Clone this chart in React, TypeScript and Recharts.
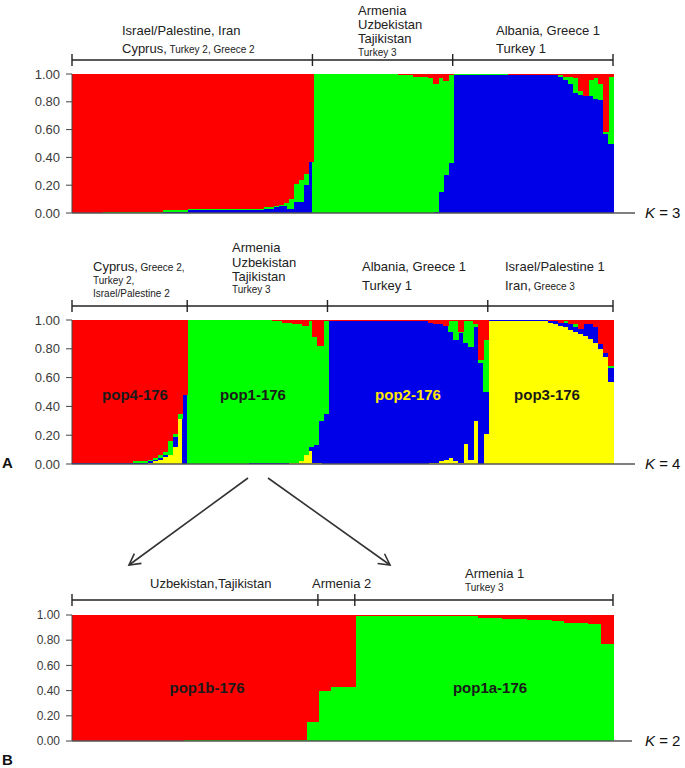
import React from 'react';
import { BarChart, Bar, XAxis, YAxis } from 'recharts';

const RED = '#ff0000';
const GREEN = '#00ff00';
const BLUE = '#0000e8';
const YELLOW = '#ffff00';
const FONT = '"Liberation Sans", Arial, sans-serif';

const yTicks = [0, 20, 40, 60, 80, 100];

// K = 3 : percent membership per bar (left to right)
const k3Groups = [48, 28, 32];
const k3Blue = [
  0, 0, 0, 0, 0, 0, 0, 0, 0, 0, 0, 0, 0, 0, 0, 0, 0, 0, 1, 1, 1, 1, 1, 2, 2, 2, 2, 2, 2,
  2, 2, 2, 2, 2, 2, 2, 2, 2, 3, 3, 4, 5, 5, 3, 8, 8, 20, 37,
  0, 0, 0, 0, 0, 0, 0, 0, 0, 0, 0, 0, 0, 0, 0, 0, 0, 0, 0, 0, 0, 0, 0, 0, 1, 15, 27, 36,
  99, 99, 99, 99, 99, 99, 99, 99, 99, 99, 99, 99, 99, 99, 99, 99, 99, 99, 99, 99, 99,
  98, 96, 93, 86, 85, 84, 84, 82, 81, 57, 50,
];
const k3Green = [
  0, 0, 0, 0, 0, 0, 1, 1, 1, 1, 1, 1, 1, 1, 1, 1, 1, 1, 1, 1, 1, 1, 1, 1, 1, 1, 1, 1, 1,
  1, 1, 1, 1, 1, 1, 1, 1, 1, 1, 1, 1, 1, 2, 7, 13, 16, 8, 0,
  100, 100, 100, 100, 100, 100, 100, 100, 100, 100, 100, 100, 100, 100, 100, 100, 100,
  99, 99, 99, 98, 98, 98, 97, 92, 82, 68, 63,
  1, 1, 1, 1, 1, 1, 1, 1, 1, 1, 1, 0, 0, 0, 0, 0, 0, 0, 0, 0, 0,
  1, 2, 5, 11, 3, 0, 12, 15, 12, 1, 48,
];
const k3Red = [
  100, 100, 100, 100, 100, 100, 99, 99, 99, 99, 99, 99, 99, 99, 99, 99, 99, 99, 98, 98, 98, 98, 98,
  97, 97, 97, 97, 97, 97, 97, 97, 97, 97, 97, 97, 97, 97, 97, 96, 96, 95, 94, 93, 90, 79, 76, 72, 63,
  0, 0, 0, 0, 0, 0, 0, 0, 0, 0, 0, 0, 0, 0, 0, 0, 0, 1, 1, 1, 2, 2, 2, 3, 7, 3, 5, 1,
  0, 0, 0, 0, 0, 0, 0, 0, 0, 0, 0, 1, 1, 1, 1, 1, 1, 1, 1, 1, 1,
  1, 2, 2, 3, 12, 16, 4, 3, 7, 42, 2,
];

// K = 4
const k4Groups = [23, 28, 32, 25];
const k4Yellow = [
  0, 0, 0, 0, 0, 0, 0, 0, 0, 0, 0, 0, 0, 0, 0, 1, 2, 3, 5, 6, 12, 31, 0,
  0, 0, 0, 0, 0, 0, 0, 0, 0, 0, 0, 0, 0, 0, 0, 0, 0, 0, 0, 0, 1, 1, 2, 6, 9, 1, 1, 0,
  0, 0, 0, 0, 0, 0, 0, 0, 0, 0, 0, 0, 0, 0, 0, 0, 0, 0, 0, 0, 1, 1, 2, 3, 4, 2, 1, 14, 3, 30, 0, 21,
  99, 99, 99, 99, 99, 99, 99, 99, 99, 99, 99, 99, 98, 97, 96, 95, 93, 92, 90, 89, 87, 84, 80, 74, 57,
];
const k4Blue = [
  1, 1, 1, 1, 1, 1, 1, 1, 1, 1, 1, 1, 1, 1, 1, 1, 1, 1, 1, 0, 7, 0, 48,
  0, 0, 0, 0, 0, 0, 0, 0, 0, 0, 0, 0, 1, 1, 1, 1, 1, 1, 1, 1, 0, 0, 0, 0, 3, 12, 29, 35,
  99, 99, 99, 99, 99, 99, 99, 99, 99, 99, 99, 99, 99, 99, 99, 99, 99, 99, 99, 99,
  97, 96, 95, 93, 88, 84, 90, 70, 78, 65, 70, 29,
  1, 1, 1, 1, 1, 1, 1, 1, 1, 1, 1, 1, 1, 2, 2, 3, 4, 3, 4, 8, 10, 11, 3, 3, 10,
];
const k4Green = [
  0, 0, 0, 0, 0, 0, 0, 0, 0, 0, 0, 0, 1, 1, 1, 1, 1, 2, 2, 10, 2, 4, 0,
  100, 100, 100, 100, 100, 100, 100, 100, 100, 100, 100, 100, 99, 99, 99, 99, 99,
  98, 98, 97, 97, 96, 95, 90, 87, 75, 52, 64,
  0, 0, 0, 0, 0, 0, 0, 0, 0, 0, 0, 0, 0, 0, 0, 0, 0, 0, 0, 0, 0, 0, 0, 0, 7, 13, 1, 15, 18, 2, 2, 36,
  0, 0, 0, 0, 0, 0, 0, 0, 0, 0, 0, 0, 0, 0, 0, 1, 0, 2, 0, 0, 0, 0, 0, 0, 1,
];
const k4Red = [
  99, 99, 99, 99, 99, 99, 99, 99, 99, 99, 99, 99, 98, 98, 98, 97, 96, 94, 92, 84, 79, 65, 52,
  0, 0, 0, 0, 0, 0, 0, 0, 0, 0, 0, 0, 0, 0, 0, 0, 0, 1, 1, 2, 2, 3, 3, 4, 1, 12, 18, 1,
  1, 1, 1, 1, 1, 1, 1, 1, 1, 1, 1, 1, 1, 1, 1, 1, 1, 1, 1, 1, 2, 3, 3, 4, 1, 1, 8, 1, 1, 3, 28, 14,
  0, 0, 0, 0, 0, 0, 0, 0, 0, 0, 0, 0, 1, 1, 2, 1, 3, 3, 6, 3, 3, 5, 17, 23, 32,
];

// K = 2 (pop1 sub-structure)
const k2Groups = [20, 3, 21];
const k2Green = [
  0, 0, 0, 0, 0, 0, 0, 0, 0, 1, 1, 1, 1, 1, 1, 1, 1, 1, 1, 15,
  40, 43, 43,
  99, 99, 99, 99, 99, 99, 99, 99, 99, 99, 98, 98, 97, 97, 96, 96, 95, 94, 94, 93, 77,
];
const k2Red = [
  100, 100, 100, 100, 100, 100, 100, 100, 100, 99, 99, 99, 99, 99, 99, 99, 99, 99, 99, 85,
  60, 57, 57,
  1, 1, 1, 1, 1, 1, 1, 1, 1, 1, 2, 2, 3, 3, 4, 4, 5, 6, 6, 7, 23,
];

const PLOT_LEFT = 72;
const PLOT_RIGHT = 613;
const PLOT_W = PLOT_RIGHT - PLOT_LEFT;

type Series = { key: string; values: number[]; color: string };

// rect widened slightly so neighbouring bars meet without hairline gaps
const barShape = (color: string) => (p: any) =>
  p.height > 0 ? (
    <rect x={p.x} y={p.y} width={p.width + 1.2} height={p.height} fill={color} shapeRendering="crispEdges" />
  ) : (
    <g />
  );

function Structure({ top, plotH, series, fontSize }: { top: number; plotH: number; series: Series[]; fontSize: number }) {
  const rows = series[0].values.map((_, i) => {
    const r: Record<string, number> = { id: i };
    series.forEach((s) => (r[s.key] = s.values[i]));
    return r;
  });
  return (
    <div style={{ position: 'absolute', left: 0, top: top - 10 }}>
      <BarChart
        width={685}
        height={plotH + 20}
        data={rows}
        margin={{ top: 10, right: 685 - PLOT_RIGHT, bottom: 10, left: 0 }}
        barCategoryGap={0}
        barGap={0}
      >
        <XAxis dataKey="id" hide />
        <YAxis
          width={PLOT_LEFT}
          domain={[0, 100]}
          ticks={yTicks}
          allowDataOverflow
          tickFormatter={(v: number) => (v / 100).toFixed(2)}
          tick={{ fontSize, fill: '#3a3a3a', fontFamily: FONT }}
          tickLine={{ stroke: '#444' }}
          axisLine={{ stroke: '#444' }}
          tickSize={6}
          tickMargin={6}
        />
        {series.map((s) => (
          <Bar
            key={s.key}
            dataKey={s.key}
            stackId="q"
            fill={s.color}
            shape={barShape(s.color)}
            isAnimationActive={false}
          />
        ))}
      </BarChart>
    </div>
  );
}

function Bracket({ y, groups }: { y: number; groups: number[] }) {
  const n = groups.reduce((a, b) => a + b, 0);
  const xs = [0];
  groups.forEach((g) => xs.push(xs[xs.length - 1] + g));
  return (
    <g stroke="#222" strokeWidth={1.4}>
      <line x1={PLOT_LEFT} x2={PLOT_RIGHT} y1={y} y2={y} />
      {xs.map((c, i) => {
        const x = PLOT_LEFT + (c / n) * PLOT_W;
        return <line key={i} x1={x} x2={x} y1={y - 6} y2={y + 6} />;
      })}
    </g>
  );
}

const small = 10;

export default function App() {
  return (
    <div style={{ position: 'absolute', left: 0, top: 0, width: 685, height: 768, background: '#fff', overflow: 'hidden' }}>
      <Structure
        top={74}
        plotH={139}
        fontSize={13}
        series={[
          { key: 'blue', values: k3Blue, color: BLUE },
          { key: 'green', values: k3Green, color: GREEN },
          { key: 'red', values: k3Red, color: RED },
        ]}
      />
      <Structure
        top={320}
        plotH={144}
        fontSize={13}
        series={[
          { key: 'yellow', values: k4Yellow, color: YELLOW },
          { key: 'blue', values: k4Blue, color: BLUE },
          { key: 'green', values: k4Green, color: GREEN },
          { key: 'red', values: k4Red, color: RED },
        ]}
      />
      <Structure
        top={615}
        plotH={126}
        fontSize={12}
        series={[
          { key: 'green', values: k2Green, color: GREEN },
          { key: 'red', values: k2Red, color: RED },
        ]}
      />
      <svg
        width={685}
        height={768}
        style={{ position: 'absolute', left: 0, top: 0, pointerEvents: 'none' }}
        fontFamily={FONT}
      >
        <defs>
          <marker id="ah" markerWidth={14} markerHeight={14} refX={12} refY={7} orient="auto" markerUnits="userSpaceOnUse">
            <path d="M1,1 L12,7 L1,13" fill="none" stroke="#333" strokeWidth={1.6} />
          </marker>
        </defs>

        {/* baselines */}
        <g stroke="#555" strokeWidth={1.3}>
          <line x1={PLOT_LEFT} x2={635} y1={213} y2={213} />
          <line x1={PLOT_LEFT} x2={635} y1={464} y2={464} />
          <line x1={PLOT_LEFT} x2={632} y1={741} y2={741} />
        </g>

        <Bracket y={60} groups={k3Groups} />
        <Bracket y={306} groups={k4Groups} />
        <Bracket y={600} groups={k2Groups} />

        <g fill="#222" fontSize={13}>
          {/* K = 3 */}
          <text x={122} y={35}>Israel/Palestine, Iran</text>
          <text x={122} y={53}>
            Cyprus,<tspan fontSize={small}> Turkey 2, Greece 2</tspan>
          </text>
          <text x={358} y={15}>Armenia</text>
          <text x={358} y={29}>Uzbekistan</text>
          <text x={358} y={43}>Tajikistan</text>
          <text x={358} y={56} fontSize={small}>Turkey 3</text>
          <text x={496} y={35}>Albania, Greece 1</text>
          <text x={496} y={53}>Turkey 1</text>

          {/* K = 4 */}
          <text x={93} y={271}>
            Cyprus,<tspan fontSize={small}> Greece 2,</tspan>
          </text>
          <text x={93} y={284} fontSize={small}>Turkey 2,</text>
          <text x={93} y={297} fontSize={small}>Israel/Palestine 2</text>
          <text x={232} y={252}>Armenia</text>
          <text x={232} y={267}>Uzbekistan</text>
          <text x={232} y={281}>Tajikistan</text>
          <text x={232} y={293} fontSize={small}>Turkey 3</text>
          <text x={362} y={271}>Albania, Greece 1</text>
          <text x={362} y={290}>Turkey 1</text>
          <text x={505} y={271}>Israel/Palestine 1</text>
          <text x={505} y={290}>
            Iran,<tspan fontSize={small}> Greece 3</tspan>
          </text>

          {/* K = 2 */}
          <text x={150} y={588}>Uzbekistan,Tajikistan</text>
          <text x={312} y={588}>Armenia 2</text>
          <text x={465} y={578}>Armenia 1</text>
          <text x={465} y={591} fontSize={small}>Turkey 3</text>
        </g>

        <g fontSize={15} fontWeight="bold" textAnchor="middle" fill="#1a1a1a">
          <text x={135} y={400}>pop4-176</text>
          <text x={253} y={400}>pop1-176</text>
          <text x={408} y={400} fill="#ffe800">pop2-176</text>
          <text x={547} y={400}>pop3-176</text>
          <text x={207} y={693}>pop1b-176</text>
          <text x={490} y={693}>pop1a-176</text>
        </g>

        <g fontSize={15} fill="#111">
          <text x={645} y={218}><tspan fontStyle="italic">K</tspan> = 3</text>
          <text x={645} y={469}><tspan fontStyle="italic">K</tspan> = 4</text>
          <text x={645} y={746}><tspan fontStyle="italic">K</tspan> = 2</text>
        </g>

        <g fontSize={15} fontWeight="bold" fill="#111">
          <text x={2} y={468}>A</text>
          <text x={2} y={765}>B</text>
        </g>

        <g stroke="#333" strokeWidth={1.6}>
          <line x1={248} y1={478} x2={129} y2={565} markerEnd="url(#ah)" />
          <line x1={268} y1={478} x2={390} y2={565} markerEnd="url(#ah)" />
        </g>
      </svg>
    </div>
  );
}
